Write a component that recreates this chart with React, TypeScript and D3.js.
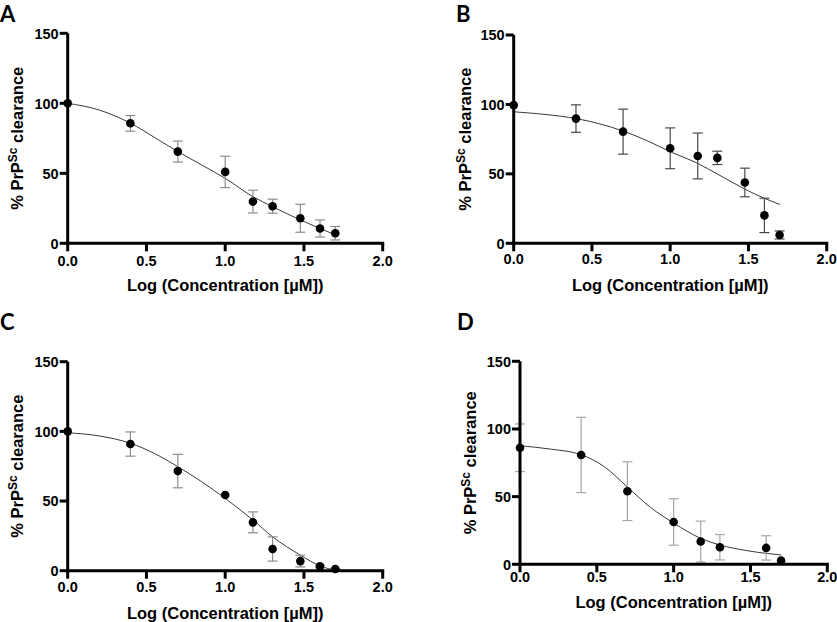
import React from "react";
import * as d3 from "d3";

// ---- data ----
const xTicks = [0, 0.5, 1.0, 1.5, 2.0];
const yTicks = [0, 50, 100, 150];
const panelLabels = ["A", "B", "C", "D"];
const xTitle = "Log (Concentration [µM])";

const logConc = [0, 0.398, 0.699, 1.0, 1.176, 1.301, 1.477, 1.602, 1.699];
const logConcD = [0, 0.398, 0.699, 1.0, 1.176, 1.301, 1.602, 1.699];

const meanA = [100, 85.7, 65.5, 51, 29.8, 26.5, 17.9, 10.6, 7.2];
const semA = [0, 5.6, 7.5, 11.2, 8.1, 5, 10, 6.1, 4.8];

const meanB = [99.5, 89.8, 80.4, 68.4, 62.9, 61.5, 43.8, 20.1, 6];
const semB = [0, 9.9, 16.2, 14.7, 16.5, 4.8, 10.3, 12.4, 2.9];

const meanC = [100, 90.9, 71.5, 54.3, 34.7, 15.6, 6.9, 3.1, 1.2];
const semC = [0, 8.7, 12, 0, 7.5, 8.7, 4.2, 0.8, 0.3];

const meanD = [86.1, 80.8, 54, 31.3, 16.8, 12.6, 12.1, 2.7];
const semD = [17.6, 27.8, 21.7, 17.2, 15.1, 9.4, 9, 0];

const fitX = [0, 0.2, 0.4, 0.55, 0.7, 0.85, 1.0, 1.176, 1.3, 1.477, 1.6, 1.7];
const fitA = [100, 95.2, 85.7, 75.7, 65.5, 56, 46.4, 33.3, 26.2, 16.7, 10.7, 6];
const fitB = [94.7, 92.8, 89.8, 86, 80.8, 74, 66, 57.5, 50, 39, 32.5, 28];
const fitC = [99, 96.7, 91.4, 84.2, 74.6, 63.9, 51.9, 36.4, 24.4, 11.2, 3.5, 0.3];
const fitD = [87.6, 85.1, 80.9, 72, 57, 42, 30.5, 19.2, 14.3, 10.1, 8.1, 6.9];

// ---- layout ----
const panels = [
  { label: panelLabels[0], xs: logConc, mean: meanA, sem: semA, fit: fitA, left: 67.7, right: 382.7, top: 33.3, bottom: 243.3, lx: 0, ly: 21.5, tickDy: 23, titleDy: 48, yTitleX: 17, errColor: "#8c8c8c" },
  { label: panelLabels[1], xs: logConc, mean: meanB, sem: semB, fit: fitB, left: 513.7, right: 826.7, top: 35, bottom: 243.3, lx: 456, ly: 21.5, tickDy: 21, titleDy: 48, yTitleX: 465, errColor: "#4a4a4a" },
  { label: panelLabels[2], xs: logConc, mean: meanC, sem: semC, fit: fitC, left: 67.7, right: 382.7, top: 361.7, bottom: 570.7, lx: 0, ly: 330, tickDy: 21, titleDy: 48, yTitleX: 17, errColor: "#8c8c8c" },
  { label: panelLabels[3], xs: logConcD, mean: meanD, sem: semD, fit: fitD, left: 520, right: 827.3, top: 361.3, bottom: 564.3, lx: 457, ly: 330, tickDy: 18, titleDy: 44, yTitleX: 470, errColor: "#a6a6a6" },
];

const FONT = "'Liberation Sans', Arial, Helvetica, sans-serif";
const fmt = d3.format(".1f");

function Panel({ p }: { p: any }) {
  const x = d3.scaleLinear().domain([0, 2]).range([p.left, p.right]);
  const y = d3.scaleLinear().domain([0, 150]).range([p.bottom, p.top]);
  const line = d3
    .line<number>()
    .x((_, i) => x(fitX[i]))
    .y((d) => y(d))
    .curve(d3.curveMonotoneX);
  const cy = (p.top + p.bottom) / 2;
  const cap = 5;
  return (
    <g>
      <text x={p.lx} y={p.ly} fontFamily="Lato, 'Open Sans', sans-serif" fontWeight="bold" fontSize={22} fill="#000">
        {p.label}
      </text>
      {/* fitted curve */}
      <path d={line(p.fit) || ""} fill="none" stroke="#3a3a3a" strokeWidth={1} />
      {/* error bars */}
      {p.xs.map((xv: number, i: number) =>
        p.sem[i] > 0 ? (
          <g key={"e" + i} stroke={p.errColor} strokeWidth={1.2}>
            <line x1={x(xv)} x2={x(xv)} y1={y(p.mean[i] - p.sem[i])} y2={y(p.mean[i] + p.sem[i])} />
            <line x1={x(xv) - cap} x2={x(xv) + cap} y1={y(p.mean[i] + p.sem[i])} y2={y(p.mean[i] + p.sem[i])} />
            <line x1={x(xv) - cap} x2={x(xv) + cap} y1={y(p.mean[i] - p.sem[i])} y2={y(p.mean[i] - p.sem[i])} />
          </g>
        ) : null
      )}
      {/* axes */}
      <g stroke="#000" strokeWidth={3} fill="none">
        <line x1={p.left} x2={p.left} y1={p.top} y2={p.bottom + 1.5} />
        <line x1={p.left - 1.5} x2={p.right + 1.5} y1={p.bottom} y2={p.bottom} />
        {yTicks.map((t) => (
          <line key={"yt" + t} x1={p.left - 8} x2={p.left} y1={y(t)} y2={y(t)} />
        ))}
        {xTicks.map((t) => (
          <line key={"xt" + t} x1={x(t)} x2={x(t)} y1={p.bottom} y2={p.bottom + 8} />
        ))}
      </g>
      {yTicks.map((t) => (
        <text key={"yl" + t} x={p.left - 9} y={y(t)} dy="0.36em" textAnchor="end" fontFamily={FONT} fontWeight="bold" fontSize={14.5} fill="#000">
          {t}
        </text>
      ))}
      {xTicks.map((t) => (
        <text key={"xl" + t} x={x(t)} y={p.bottom + p.tickDy} textAnchor="middle" fontFamily={FONT} fontWeight="bold" fontSize={14.5} fill="#000">
          {fmt(t)}
        </text>
      ))}
      <text x={(p.left + p.right) / 2} y={p.bottom + p.titleDy} textAnchor="middle" fontFamily={FONT} fontWeight="bold" fontSize={16.5} fill="#000">
        {xTitle}
      </text>
      <text
        transform={`translate(${p.yTitleX},${cy}) rotate(-90)`}
        textAnchor="middle"
        dy="0.36em"
        fontFamily={FONT}
        fontWeight="bold"
        fontSize={16.5}
        fill="#000"
      >
        <tspan>% PrP</tspan>
        <tspan dy="-6" fontSize={12}>Sc</tspan>
        <tspan dy="6"> clearance</tspan>
      </text>
      {/* points */}
      {p.xs.map((xv: number, i: number) => (
        <circle key={"p" + i} cx={x(xv)} cy={y(p.mean[i])} r={4.3} fill="#000" />
      ))}
    </g>
  );
}

export default function App() {
  return (
    <svg width={837} height={622} style={{ position: "absolute", left: 0, top: 0, background: "#fff" }}>
      <rect x={0} y={0} width={837} height={622} fill="#fff" />
      {panels.map((p) => (
        <Panel key={p.label} p={p} />
      ))}
    </svg>
  );
}
